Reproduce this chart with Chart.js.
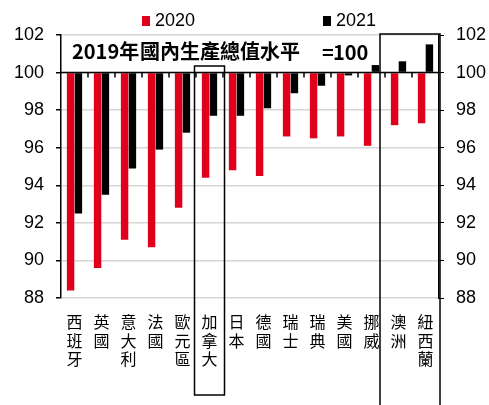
<!DOCTYPE html>
<html lang="zh-Hant">
<head>
  <meta charset="UTF-8">
  <title>GDP vs 2019</title>
  <script src="https://cdn.jsdelivr.net/npm/chart.js"></script>
  <style>
    body { margin: 0; padding: 0; background: #fff; }
    #wrap { width: 489px; height: 405px; position: relative; }
  </style>
</head>
<body>
  <div id="wrap"><canvas id="gdp-chart"></canvas></div>

  <script>
    // Data (2019 GDP level = 100)
    const countries = ['西班牙', '英國', '意大利', '法國', '歐元區', '加拿大', '日本',
                       '德國', '瑞士', '瑞典', '美國', '挪威', '澳洲', '紐西蘭'];
    const gdp2020 = [88.4, 89.6, 91.1, 90.7, 92.8, 94.4, 94.8, 94.5, 96.6, 96.5, 96.6, 96.1, 97.2, 97.3];
    const gdp2021 = [92.5, 93.5, 94.9, 95.9, 96.8, 97.7, 97.7, 98.1, 98.9, 99.3, 99.85, 100.4, 100.6, 101.5];
    const seriesNames = ['2020', '2021'];
    const yMin = 88, yMax = 102, yStep = 2, baseLevel = 100;

    const RED = '#e0001b';
    const BLACK = '#000000';
    const tickFont = { family: 'Liberation Sans, Arial, sans-serif', size: 18 };

    // extra drawing: base line, legend, note text, highlight boxes
    const overlay = {
      id: 'overlay',
      afterDatasetsDraw(chart) {
        const { ctx, chartArea, scales } = chart;
        const x = scales.x, y = scales.y;
        const catW = (chartArea.right - chartArea.left) / countries.length;
        const y100 = y.getPixelForValue(baseLevel);
        ctx.save();

        // base line at 100 with ticks between categories
        ctx.strokeStyle = BLACK;
        ctx.lineWidth = 1.5;
        ctx.beginPath();
        ctx.moveTo(chartArea.left, y100);
        ctx.lineTo(chartArea.right, y100);
        for (let i = 1; i < countries.length; i++) {
          const px = chartArea.left + i * catW;
          ctx.moveTo(px, y100);
          ctx.lineTo(px, y100 + 5);
        }
        ctx.stroke();

        // note text
        ctx.fillStyle = BLACK;
        ctx.textBaseline = 'middle';
        ctx.font = 'bold 20px "Noto Sans CJK TC", sans-serif';
        ctx.fillText('2019年', 72, 51);
        ctx.fillText('國內生產總值水平', 140, 51);
        ctx.fillText('=', 322, 52);
        ctx.fillText('100', 333, 52);

        // highlight boxes
        ctx.lineWidth = 1.5;
        const cx = x.getPixelForValue(5);
        ctx.strokeRect(cx - 15, 66, 30, 329);
        const left12 = chartArea.left + 12 * catW - 5;
        ctx.strokeRect(left12, 34, chartArea.right + 1 - left12, 400);

        // legend
        ctx.font = '18px "Liberation Sans", Arial, sans-serif';
        const items = [{ x: 142, color: RED }, { x: 323, color: BLACK }];
        items.forEach((it, i) => {
          ctx.fillStyle = it.color;
          ctx.fillRect(it.x, 16, 8, 10);
          ctx.fillStyle = BLACK;
          ctx.fillText(seriesNames[i], it.x + 13, 21);
        });
        ctx.restore();
      }
    };

    new Chart(document.getElementById('gdp-chart'), {
      type: 'bar',
      data: {
        labels: countries.map(c => c.split('')),
        datasets: [
          { label: seriesNames[0], data: gdp2020, backgroundColor: RED, base: baseLevel,
            categoryPercentage: 0.58, barPercentage: 0.95, yAxisID: 'y' },
          { label: seriesNames[1], data: gdp2021, backgroundColor: BLACK, base: baseLevel,
            categoryPercentage: 0.58, barPercentage: 0.95, yAxisID: 'y' }
        ]
      },
      options: {
        responsive: true,
        maintainAspectRatio: false,
        animation: false,
        layout: { padding: { top: 35, bottom: 0, left: 0, right: 0 } },
        plugins: {
          legend: { display: false },
          tooltip: { enabled: false }
        },
        scales: {
          x: {
            grid: { display: false },
            border: { display: false },
            ticks: {
              color: BLACK,
              autoSkip: false,
              maxRotation: 0,
              padding: 7,
              font: { family: '"Noto Sans CJK TC", sans-serif', size: 16, lineHeight: 1.16 }
            },
            afterFit(scale) { scale.height = 107; }
          },
          y: {
            position: 'left',
            min: yMin,
            max: yMax,
            grid: {
              color: '#d6d6d6',
              lineWidth: 1.5,
              tickColor: BLACK,
              tickLength: 5
            },
            border: { color: BLACK, width: 1.5 },
            ticks: { stepSize: yStep, color: BLACK, font: tickFont, padding: 12 },
            afterFit(scale) { scale.width = 61; }
          },
          y2: {
            position: 'right',
            min: yMin,
            max: yMax,
            grid: { drawOnChartArea: false, tickColor: BLACK, tickLength: 5 },
            border: { color: BLACK, width: 1.5 },
            ticks: { stepSize: yStep, color: BLACK, font: tickFont, padding: 12 },
            afterFit(scale) { scale.width = 50; }
          }
        }
      },
      plugins: [overlay]
    });
  </script>
</body>
</html>
